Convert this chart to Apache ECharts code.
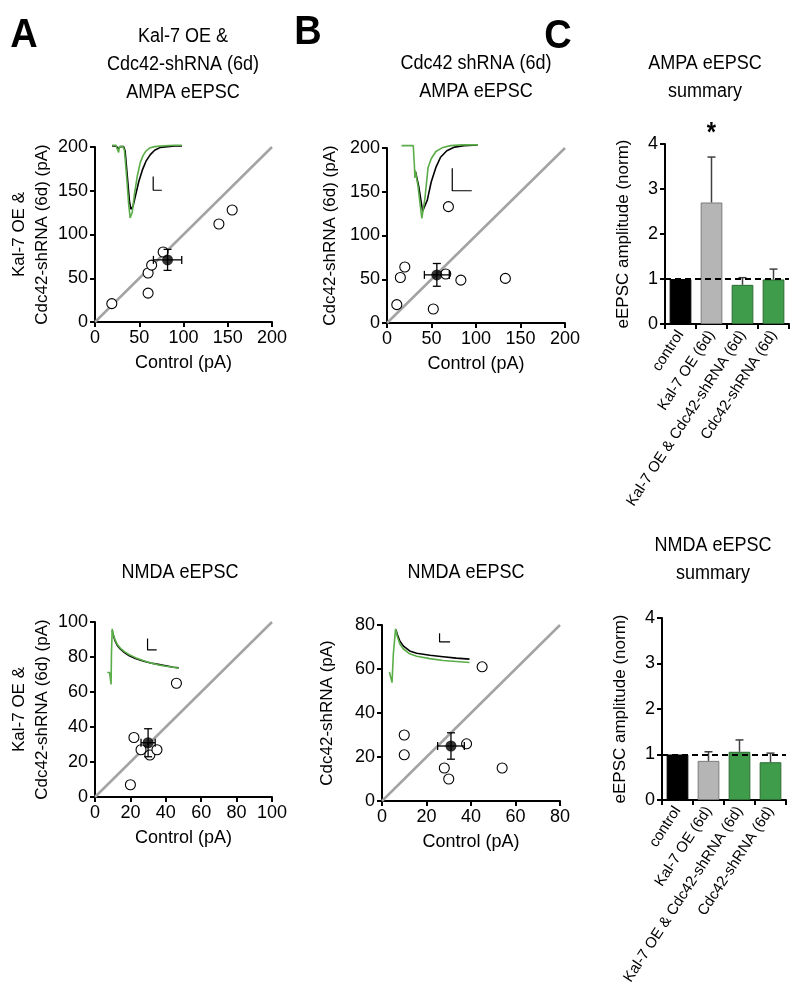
<!DOCTYPE html>
<html><head><meta charset="utf-8">
<script src="https://cdn.jsdelivr.net/npm/echarts@6/dist/echarts.min.js"></script>
<style>html,body{margin:0;padding:0;background:#fff}#c{width:800px;height:992px}</style>
</head><body><div id="c"></div>
<script>
// ---------- data ----------
const ampaKalCdcCtrl = [19, 60, 60, 64, 77, 140, 155];
const ampaKalCdcExp  = [21, 33, 56, 65, 80, 112, 128];
const ampaKalCdcMean = [82, 71];
const ampaKalCdcErr  = [16, 12];

const ampaCdcCtrl = [11, 15, 20, 52, 66, 69, 83, 133];
const ampaCdcExp  = [21, 52, 64, 16, 56, 133, 49, 51];
const ampaCdcMean = [56, 55];
const ampaCdcErr  = [14, 13];

const nmdaKalCdcCtrl = [20, 22, 26, 31, 35, 46];
const nmdaKalCdcExp  = [7, 34, 27, 24, 27, 65];
const nmdaKalCdcMean = [30, 31];
const nmdaKalCdcErr  = [4, 8];

const nmdaCdcCtrl = [10, 10, 28, 30, 38, 45, 54];
const nmdaCdcExp  = [30, 21, 15, 10, 26, 61, 15];
const nmdaCdcMean = [31, 25];
const nmdaCdcErr  = [6, 6];

const summaryCategories = ['control', 'Kal-7 OE (6d)', 'Kal-7 OE & Cdc42-shRNA (6d)', 'Cdc42-shRNA (6d)'];
const ampaSummary    = [1.0, 2.70, 0.87, 0.99];
const ampaSummaryErr = [0, 1.01, 0.16, 0.23];
const ampaSig        = ['', '*', '', ''];
const nmdaSummary    = [1.0, 0.86, 1.06, 0.83];
const nmdaSummaryErr = [0, 0.20, 0.26, 0.20];

const ampaTicks = [0, 200, 50];
const nmdaKalTicks = [0, 100, 20];
const nmdaCdcTicks = [0, 80, 20];
const summaryTicks = [0, 4, 1];

// example traces (time %, amplitude %)
const ampaKalTraceCtrl = [[3,1],[8,1],[12,-3],[14,0],[19,0],[21,-6],[24,-40],[27,-75],[29,-86],[30,-88],[32,-82],[36,-65],[40,-48],[45,-32],[50,-20],[56,-11],[62,-5],[70,-1],[80,0],[90,1],[100,1]];
const ampaKalTraceExp  = [[3,2],[8,2],[10,1],[12,-8],[13,0],[18,0],[20,-5],[23,-40],[26,-80],[28,-98],[29,-100],[31,-90],[34,-65],[38,-40],[42,-22],[46,-12],[50,-6],[55,-2],[62,0],[75,1],[90,2],[100,2]];
const ampaKalScale = [[60,-41],[60,-60],[72,-60]];

const ampaCdcTraceCtrl = [[20,-36],[24,-56],[29,-90],[31,-92],[35,-75],[40,-50],[46,-30],[52,-16],[60,-7],[70,-2],[82,0],[100,1]];
const ampaCdcTraceExp  = [[2,0],[17,0],[18.5,-28],[19,-44],[19.5,-34],[23,-55],[28,-100],[32,-72],[36,-30],[40,-18],[46,-8],[54,-3],[65,0],[80,1],[100,1]];
const ampaCdcScale = [[67,-31],[67,-62],[92,-62]];

const nmdaKalTraceCtrl = [[9.5,88],[11,78],[13,68],[16,58],[20,50],[26,42],[32,36],[40,30],[50,25],[60,21],[70,18],[80,15],[90,12],[97,11]];
const nmdaKalTraceExp  = [[3,1],[6,1],[7,0],[8,-24],[8.5,40],[9.5,92],[11,80],[13,70],[16,60],[20,52],[26,44],[32,38],[40,32],[50,26],[60,21],[70,17],[80,14],[90,12],[97,10]];
const nmdaKalScale = [[56,72],[56,48],[68,48]];

const nmdaCdcTraceCtrl = [[12.5,90],[14,80],[17,66],[21,56],[28,46],[36,41],[51,37],[66,34],[81,31],[96,29]];
const nmdaCdcTraceExp  = [[5,2],[7,2],[8,-20],[9.5,40],[12,92],[14,76],[17,60],[21,50],[28,40],[36,35],[51,30],[66,26],[81,24],[96,22]];
const nmdaCdcScale = [[62,83],[62,65],[74,65]];

// ---------- styling ----------
const FONT = "'Liberation Sans', Arial, sans-serif";
const GREEN = '#3f9c4a', GREEN_EDGE = '#2b6a33', TRACE_GREEN = '#5aad48';
const barColors = ['#000000', '#b5b5b5', GREEN, GREEN];
const barEdges  = ['#000000', '#7a7a7a', GREEN_EDGE, GREEN_EDGE];

function zip(a, b) { return a.map((v, i) => [v, b[i]]); }

function valAxis(grid, ticks, extra) {
  return Object.assign({
    type: 'value', gridIndex: grid, min: ticks[0], max: ticks[1], interval: ticks[2],
    axisLine: { show: true, onZero: false, lineStyle: { color: '#000', width: 2 } },
    axisTick: { show: true, length: 5, lineStyle: { color: '#000', width: 2 } },
    splitLine: { show: false },
    axisLabel: { color: '#000', fontSize: 18, fontFamily: FONT, margin: 7 },
    nameLocation: 'middle'
  }, extra || {});
}
const xName = { color: '#000', fontSize: 18, fontFamily: FONT };
const yName = { color: '#000', fontSize: 17, fontFamily: FONT, lineHeight: 23 };
function hiddenAxis(grid, min, max) {
  return { type: 'value', gridIndex: grid, min: min, max: max, show: false };
}
function catAxis(grid) {
  return {
    type: 'category', gridIndex: grid, data: summaryCategories,
    axisLine: { show: true, lineStyle: { color: '#000', width: 2 } },
    axisTick: { show: true, length: 5, lineStyle: { color: '#000', width: 2 } },
    axisLabel: { color: '#000', fontSize: 15, fontFamily: FONT, rotate: 57, interval: 0, margin: 8 }
  };
}

function meanErrRender(params, api) {
  const mx = api.value(0), my = api.value(1), ex = api.value(2), ey = api.value(3);
  const l = api.coord([mx - ex, my]), r = api.coord([mx + ex, my]);
  const t = api.coord([mx, my + ey]), b = api.coord([mx, my - ey]);
  const c = 4, st = { stroke: '#000', lineWidth: 1.3 };
  return { type: 'group', children: [
    { type: 'line', shape: { x1: l[0], y1: l[1], x2: r[0], y2: r[1] }, style: st },
    { type: 'line', shape: { x1: l[0], y1: l[1] - c, x2: l[0], y2: l[1] + c }, style: st },
    { type: 'line', shape: { x1: r[0], y1: r[1] - c, x2: r[0], y2: r[1] + c }, style: st },
    { type: 'line', shape: { x1: t[0], y1: t[1], x2: b[0], y2: b[1] }, style: st },
    { type: 'line', shape: { x1: t[0] - c, y1: t[1], x2: t[0] + c, y2: t[1] }, style: st },
    { type: 'line', shape: { x1: b[0] - c, y1: b[1], x2: b[0] + c, y2: b[1] }, style: st }
  ]};
}
function barErrRenderer(sig) {
  return function (params, api) {
    const i = api.value(0), v = api.value(1), e = api.value(2);
    const children = [];
    const st = { stroke: '#404040', lineWidth: 1.5 };
    const b = api.coord([i, v]), t = api.coord([i, v + e]);
    if (e > 0) {
      children.push({ type: 'line', shape: { x1: b[0], y1: b[1], x2: t[0], y2: t[1] }, style: st });
      children.push({ type: 'line', shape: { x1: t[0] - 4, y1: t[1], x2: t[0] + 4, y2: t[1] }, style: st });
    }
    const s = sig ? sig[params.dataIndex] : '';
    if (s) children.push({ type: 'text', x: t[0], y: t[1] - 24, scaleX: 0.85,
      style: { text: s, fill: '#000', font: 'bold 28px ' + FONT, align: 'center', verticalAlign: 'middle' } });
    return { type: 'group', children: children };
  };
}

function scatterSet(grid, ctrl, exp, mean, err, diagMax) {
  return [
    { type: 'line', xAxisIndex: grid, yAxisIndex: grid, data: [[0, 0], [diagMax, diagMax]],
      symbol: 'none', lineStyle: { color: '#a3a3a3', width: 2.5 }, z: 1, silent: true },
    { type: 'scatter', xAxisIndex: grid, yAxisIndex: grid, data: zip(ctrl, exp), symbol: 'circle', symbolSize: 10,
      itemStyle: { color: '#fff', borderColor: '#000', borderWidth: 1.1, opacity: 1 }, z: 3 },
    { type: 'custom', xAxisIndex: grid, yAxisIndex: grid, data: [[mean[0], mean[1], err[0], err[1]]],
      encode: { x: 0, y: 1 }, renderItem: meanErrRender, z: 4 },
    { type: 'scatter', xAxisIndex: grid, yAxisIndex: grid, data: [mean], symbol: 'circle', symbolSize: 11,
      itemStyle: { color: '#000' }, z: 5 }
  ];
}
function traceSet(grid, ctrl, exp, scale) {
  return [
    { type: 'line', xAxisIndex: grid, yAxisIndex: grid, data: ctrl, symbol: 'none',
      lineStyle: { color: '#000', width: 1.6 }, z: 6, silent: true },
    { type: 'line', xAxisIndex: grid, yAxisIndex: grid, data: exp, symbol: 'none',
      lineStyle: { color: TRACE_GREEN, width: 1.6 }, z: 7, silent: true },
    { type: 'line', xAxisIndex: grid, yAxisIndex: grid, data: scale, symbol: 'none',
      lineStyle: { color: '#000', width: 1.2 }, z: 7, silent: true }
  ];
}
function barSet(grid, vals, errs, sig) {
  return [
    { type: 'bar', xAxisIndex: grid, yAxisIndex: grid, barWidth: '70%',
      data: vals.map((v, i) => ({ value: v, itemStyle: { color: barColors[i], borderColor: barEdges[i], borderWidth: 1 } })),
      markLine: { silent: true, symbol: 'none', label: { show: false },
        lineStyle: { type: [6, 4], color: '#000', width: 2 }, data: [{ yAxis: 1 }] }, z: 2 },
    { type: 'custom', xAxisIndex: grid, yAxisIndex: grid, data: vals.map((v, i) => [i, v, errs[i]]),
      encode: { x: 0, y: 1 }, renderItem: barErrRenderer(sig), z: 3, clip: false }
  ];
}

function txt(x, y, text, size, bold, lh, sx) {
  return { type: 'text', x: x, y: y, silent: true, scaleX: sx || 0.9,
    style: { text: text, fill: '#000', font: (bold ? 'bold ' : '') + size + 'px ' + FONT,
      align: 'center', verticalAlign: 'middle', lineHeight: lh || size * 1.3 } };
}

const option = {
  animation: false,
  backgroundColor: '#fff',
  grid: [
    { left: 95, top: 147, width: 177, height: 175 },
    { left: 387, top: 148, width: 178, height: 175 },
    { left: 665, top: 144, width: 124, height: 180 },
    { left: 95, top: 622, width: 177, height: 175 },
    { left: 382, top: 625, width: 178, height: 176 },
    { left: 662, top: 618, width: 124, height: 182 },
    { left: 110, top: 143, width: 72, height: 80 },
    { left: 400, top: 142, width: 78, height: 80 },
    { left: 105, top: 625, width: 76, height: 60 },
    { left: 385, top: 625, width: 88, height: 60 }
  ],
  xAxis: [
    valAxis(0, ampaTicks, { name: 'Control (pA)', nameGap: 32, nameTextStyle: xName }),
    valAxis(1, ampaTicks, { name: 'Control (pA)', nameGap: 32, nameTextStyle: xName }),
    catAxis(2),
    valAxis(3, nmdaKalTicks, { name: 'Control (pA)', nameGap: 32, nameTextStyle: xName }),
    valAxis(4, nmdaCdcTicks, { name: 'Control (pA)', nameGap: 32, nameTextStyle: xName }),
    catAxis(5),
    hiddenAxis(6, 0, 100), hiddenAxis(7, 0, 100), hiddenAxis(8, 0, 100), hiddenAxis(9, 0, 100)
  ],
  yAxis: [
    valAxis(0, ampaTicks, { name: 'Kal-7 OE &\nCdc42-shRNA (6d) (pA)', nameGap: 40, nameTextStyle: yName }),
    valAxis(1, ampaTicks, { name: 'Cdc42-shRNA (6d) (pA)', nameGap: 45, nameTextStyle: yName }),
    valAxis(2, summaryTicks, { name: 'eEPSC amplitude (norm)', nameGap: 30, nameTextStyle: yName }),
    valAxis(3, nmdaKalTicks, { name: 'Kal-7 OE &\nCdc42-shRNA (6d) (pA)', nameGap: 40, nameTextStyle: yName }),
    valAxis(4, nmdaCdcTicks, { name: 'Cdc42-shRNA (pA)', nameGap: 43, nameTextStyle: yName }),
    valAxis(5, summaryTicks, { name: 'eEPSC amplitude (norm)', nameGap: 30, nameTextStyle: yName }),
    hiddenAxis(6, -105, 5), hiddenAxis(7, -105, 5), hiddenAxis(8, -25, 100), hiddenAxis(9, -25, 100)
  ],
  graphic: [
    txt(24, 36, 'A', 40, true, 40, 0.95),
    txt(308, 33, 'B', 40, true, 40, 0.95),
    txt(558, 37, 'C', 40, true, 40, 0.95),
    txt(183, 64, 'Kal-7 OE &\nCdc42-shRNA (6d)\nAMPA eEPSC', 20, false, 28),
    txt(476, 77, 'Cdc42 shRNA (6d)\nAMPA eEPSC', 20, false, 28),
    txt(705, 77, 'AMPA eEPSC\nsummary', 20, false, 28),
    txt(180, 572, 'NMDA eEPSC', 20, false),
    txt(466, 572, 'NMDA eEPSC', 20, false),
    txt(713, 559, 'NMDA eEPSC\nsummary', 20, false, 28)
  ],
  series: [].concat(
    scatterSet(0, ampaKalCdcCtrl, ampaKalCdcExp, ampaKalCdcMean, ampaKalCdcErr, 200),
    scatterSet(1, ampaCdcCtrl, ampaCdcExp, ampaCdcMean, ampaCdcErr, 200),
    scatterSet(3, nmdaKalCdcCtrl, nmdaKalCdcExp, nmdaKalCdcMean, nmdaKalCdcErr, 100),
    scatterSet(4, nmdaCdcCtrl, nmdaCdcExp, nmdaCdcMean, nmdaCdcErr, 80),
    barSet(2, ampaSummary, ampaSummaryErr, ampaSig),
    barSet(5, nmdaSummary, nmdaSummaryErr, null),
    traceSet(6, ampaKalTraceCtrl, ampaKalTraceExp, ampaKalScale),
    traceSet(7, ampaCdcTraceCtrl, ampaCdcTraceExp, ampaCdcScale),
    traceSet(8, nmdaKalTraceCtrl, nmdaKalTraceExp, nmdaKalScale),
    traceSet(9, nmdaCdcTraceCtrl, nmdaCdcTraceExp, nmdaCdcScale)
  )
};

const chart = echarts.init(document.getElementById('c'), null, { renderer: 'canvas' });
chart.setOption(option);
</script>
</body></html>
